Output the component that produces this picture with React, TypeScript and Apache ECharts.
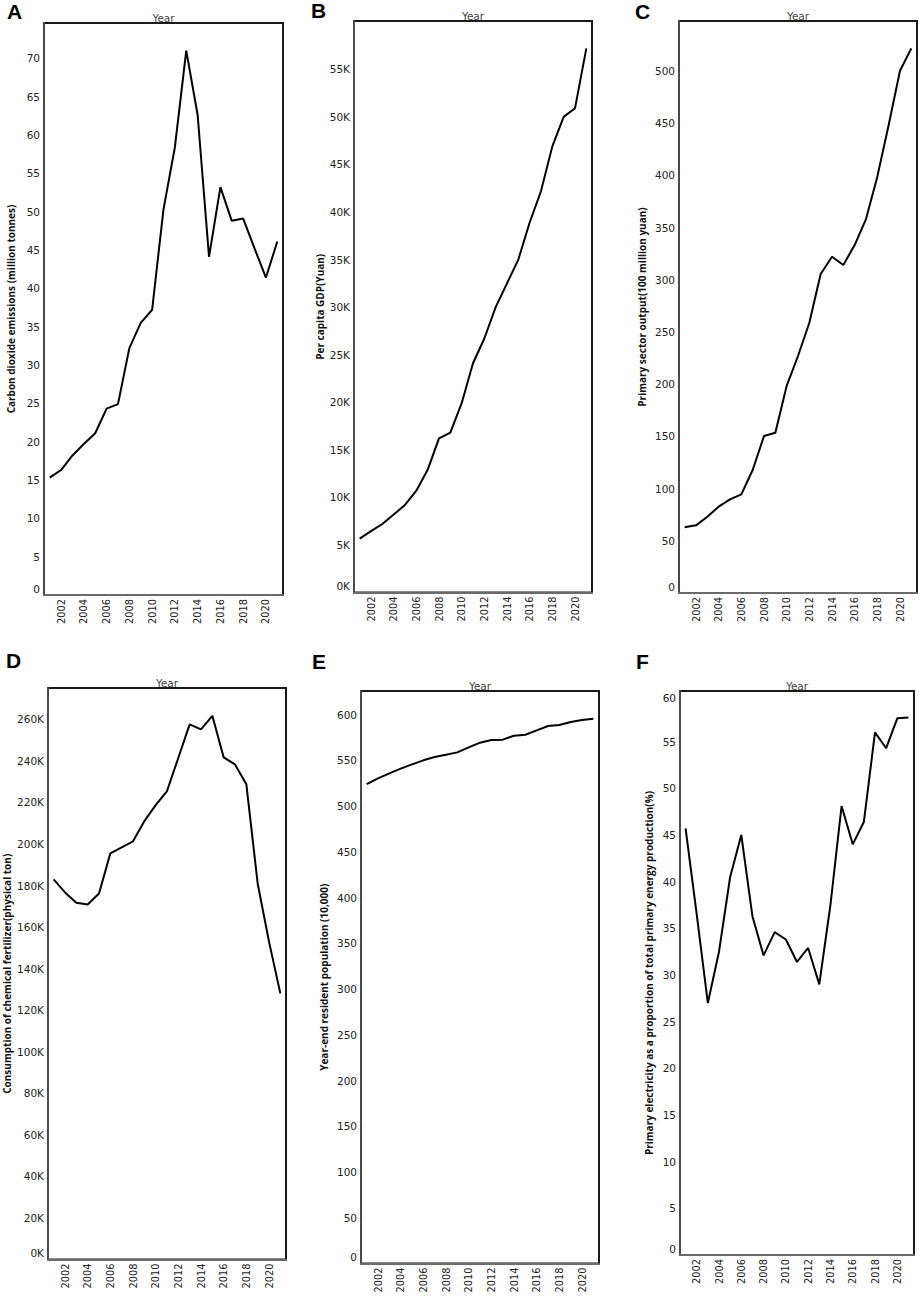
import React, { useEffect, useRef } from 'react';
import * as echarts from 'echarts';

const years = ['2001', '2002', '2003', '2004', '2005', '2006', '2007', '2008', '2009', '2010', '2011', '2012', '2013', '2014', '2015', '2016', '2017', '2018', '2019', '2020', '2021'];

const co2Emissions = [15.3, 16.3, 18.2, 19.7, 21.1, 24.3, 24.9, 32.2, 35.5, 37.2, 50.3, 58.4, 71.0, 62.6, 44.1, 53.2, 48.8, 49.1, 45.2, 41.4, 46.1];
const gdpPerCapita = [5670, 6450, 7200, 8200, 9200, 10700, 12900, 16200, 16800, 19900, 24100, 26700, 30000, 32500, 35000, 38900, 42200, 46900, 50000, 50900, 57200];
const primaryOutput = [62.9, 64.8, 73.1, 82.7, 89.7, 94.5, 117.8, 150.4, 153.5, 198.3, 227.0, 258.9, 305.6, 322.1, 314.2, 333.3, 358.2, 398.8, 448.3, 500.3, 521.7];
const fertilizer = [183000, 176700, 171700, 170900, 176200, 195500, 198400, 201300, 211000, 218700, 225500, 241500, 257600, 255200, 261700, 241700, 238300, 228800, 181000, 153000, 128100];
const population = [524.2, 530.4, 535.9, 541.0, 545.7, 550.1, 553.7, 556.3, 558.8, 564.3, 569.4, 572.3, 572.7, 577.0, 578.1, 582.9, 587.6, 588.7, 592.0, 594.2, 595.6];
const electricityShare = [45.7, 36.5, 27.0, 32.5, 40.5, 45.0, 36.3, 32.1, 34.6, 33.8, 31.4, 32.9, 29.0, 37.5, 48.1, 44.0, 46.4, 56.0, 54.3, 57.5, 57.6];

const co2Ticks = [0, 5, 10, 15, 20, 25, 30, 35, 40, 45, 50, 55, 60, 65, 70];
const gdpTicks = [0, 5000, 10000, 15000, 20000, 25000, 30000, 35000, 40000, 45000, 50000, 55000];
const primaryTicks = [0, 50, 100, 150, 200, 250, 300, 350, 400, 450, 500];
const fertilizerTicks = [0, 20000, 40000, 60000, 80000, 100000, 120000, 140000, 160000, 180000, 200000, 220000, 240000, 260000];
const populationTicks = [0, 50, 100, 150, 200, 250, 300, 350, 400, 450, 500, 550, 600];
const electricityTicks = [0, 5, 10, 15, 20, 25, 30, 35, 40, 45, 50, 55, 60];

const kFmt = (v: number) => `${Math.round(v / 1000)}K`;
const plainFmt = (v: number) => `${v}`;

const panels = [
  { letter: 'A', yName: 'Carbon dioxide emissions (million tonnes)', data: co2Emissions, ticks: co2Ticks, max: 74.6, fmt: plainFmt, grid: { left: 44, top: 23, width: 239, height: 572 }, nameGap: 28, letterPos: [7, 1], topShift: false },
  { letter: 'B', yName: 'Per capita GDP(Yuan)', data: gdpPerCapita, ticks: gdpTicks, max: 60080, fmt: kFmt, grid: { left: 354, top: 21, width: 238, height: 571.5 }, nameGap: 29, letterPos: [311, 0], topShift: false },
  { letter: 'C', yName: 'Primary sector output(100 million yuan)', data: primaryOutput, ticks: primaryTicks, max: 547.9, fmt: plainFmt, grid: { left: 679, top: 21, width: 238, height: 572 }, nameGap: 32, letterPos: [635, 1], topShift: false },
  { letter: 'D', yName: 'Consumption of chemical fertilizer(physical ton)', data: fertilizer, ticks: fertilizerTicks, max: 275100, fmt: kFmt, grid: { left: 48, top: 688, width: 238, height: 571.5 }, nameGap: 36, letterPos: [6, 650], topShift: false },
  { letter: 'E', yName: 'Year-end resident population (10,000)', data: population, ticks: populationTicks, max: 625.9, fmt: plainFmt, grid: { left: 361, top: 691, width: 238, height: 572.5 }, nameGap: 32, letterPos: [312, 651], topShift: false },
  { letter: 'F', yName: 'Primary electricity as a proportion of total primary energy production(%)', data: electricityShare, ticks: electricityTicks, max: 60.43, fmt: plainFmt, grid: { left: 680, top: 691, width: 234, height: 564 }, nameGap: 26, letterPos: [636, 651], topShift: true },
];

const TICK_FONT = 'DejaVu Sans';
const NAME_FONT = 'Open Sans';

export default function App() {
  const ref = useRef<HTMLDivElement>(null);
  useEffect(() => {
    const chart = echarts.init(ref.current!, null, { renderer: 'svg' });
    const grids: any[] = [];
    const xAxes: any[] = [];
    const yAxes: any[] = [];
    const series: any[] = [];
    const graphics: any[] = [];
    panels.forEach((p, i) => {
      grids.push({ ...p.grid, show: true, borderColor: '#1a1a1a', borderWidth: 2, backgroundColor: '#fff', containLabel: false });
      xAxes.push({
        type: 'category', gridIndex: i, data: years, boundaryGap: true, position: 'bottom',
        axisLine: { show: true, lineStyle: { color: '#6a6a6a', width: 2 } },
        axisTick: { show: false },
        axisLabel: { interval: (idx: number) => idx % 2 === 1, rotate: 90, margin: 4, fontSize: 9.8, fontFamily: TICK_FONT, color: '#222' },
      });
      xAxes.push({
        type: 'category', gridIndex: i, data: years, boundaryGap: true, position: 'top',
        name: 'Year', nameLocation: 'middle', nameGap: 0,
        nameTextStyle: { fontSize: 10.5, fontFamily: TICK_FONT, color: '#444', verticalAlign: 'bottom' },
        axisLine: { show: false }, axisTick: { show: false }, axisLabel: { show: false },
      });
      const last = p.ticks[p.ticks.length - 1];
      yAxes.push({
        type: 'value', gridIndex: i, min: 0, max: p.max,
        name: p.yName, nameLocation: 'middle', nameGap: p.nameGap,
        nameTextStyle: { fontSize: 10, fontWeight: 'bold', fontFamily: NAME_FONT, color: '#111' },
        axisLine: { show: true, lineStyle: { color: '#4a4a4a', width: 2 } },
        axisTick: { show: false },
        splitLine: { show: false },
        axisLabel: {
          customValues: p.ticks, margin: 4, fontSize: 10.5, fontFamily: TICK_FONT, color: '#222',
          formatter: (v: number) => {
            const t = p.fmt(v);
            if (v === 0) return `{z|${t}}`;
            if (p.topShift && v === last) return `{t|${t}}`;
            return t;
          },
          rich: {
            z: { fontSize: 10.5, fontFamily: TICK_FONT, color: '#222', padding: [0, 0, 13, 0] },
            t: { fontSize: 10.5, fontFamily: TICK_FONT, color: '#222', padding: [6, 0, 0, 0] },
          },
        },
      });
      series.push({
        type: 'line', xAxisIndex: i * 2, yAxisIndex: i, data: p.data,
        showSymbol: false, symbol: 'none',
        lineStyle: { color: '#000', width: 2 },
      });
      graphics.push({
        type: 'text', left: p.letterPos[0], top: p.letterPos[1],
        style: { text: p.letter, fontSize: 21, fontWeight: 'bold', fontFamily: 'Liberation Sans', fill: '#000' },
      });
    });
    chart.setOption({
      animation: false,
      backgroundColor: '#fff',
      grid: grids,
      xAxis: xAxes,
      yAxis: yAxes,
      series,
      graphic: graphics,
    });
    return () => chart.dispose();
  }, []);
  return <div ref={ref} style={{ position: 'absolute', left: 0, top: 0, width: 920, height: 1300, background: '#fff' }} />;
}
